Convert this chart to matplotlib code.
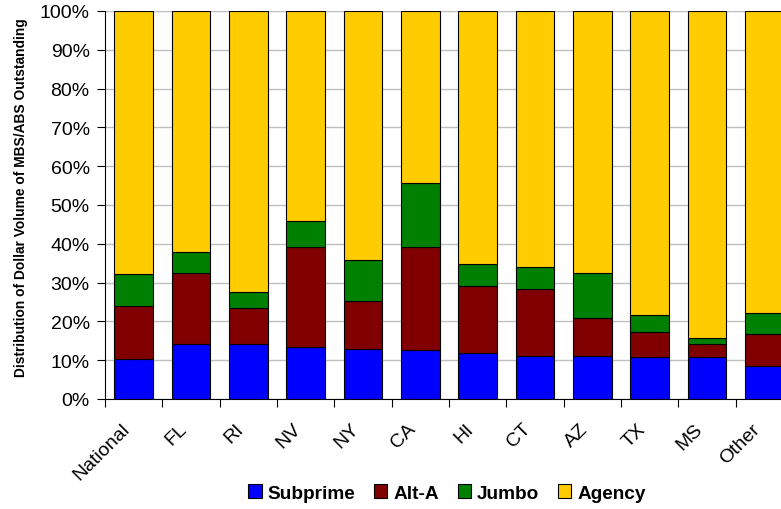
import numpy as np
import matplotlib
matplotlib.use("Agg")
from matplotlib import pyplot as plt
from matplotlib import transforms

# datos (porcentaje por tramo)
estados = ['National', 'FL', 'RI', 'NV', 'NY', 'CA', 'HI', 'CT', 'AZ', 'TX', 'MS', 'Other']
subprime = [10.3, 14.3, 14.1, 13.3, 13.0, 12.7, 11.9, 11.1, 11.1, 10.8, 10.8, 8.5]
alt_a = [13.7, 18.2, 9.3, 26.0, 12.3, 26.4, 17.1, 17.3, 9.9, 6.4, 3.5, 8.3]
jumbo = [8.2, 5.5, 4.1, 6.6, 10.6, 16.6, 5.9, 5.6, 11.5, 4.4, 1.4, 5.3]
agency = [100 - s - a - j for s, a, j in zip(subprime, alt_a, jumbo)]

series = [('Subprime', subprime, '#0000ff'),
          ('Alt-A', alt_a, '#800000'),
          ('Jumbo', jumbo, '#008000'),
          ('Agency', agency, '#ffcc00')]

plt.rcParams['font.family'] = ['Liberation Sans', 'DejaVu Sans']

fig = plt.figure(figsize=(7.81, 5.10), dpi=100)
ax = fig.add_axes([105 / 781, 110 / 510, 688 / 781, 388 / 510])

x = np.arange(len(estados))
base = np.zeros(len(estados))
for nombre, vals, color in series:
    ax.bar(x, vals, 0.67, bottom=base, color=color, edgecolor='black',
           linewidth=0.8, label=nombre, zorder=3)
    base += np.array(vals)

ax.set_xlim(-0.5, len(estados) - 0.5)
ax.set_ylim(0, 100)
ax.set_yticks(np.arange(0, 101, 10))
ax.set_yticklabels([f'{v}%' for v in range(0, 101, 10)], fontsize=14)
ax.yaxis.grid(True, color='#c0c0c0', linewidth=1, zorder=0)

# marcas entre categorias; etiquetas giradas en el centro de cada barra
ax.set_xticks(np.arange(-0.5, len(estados), 1))
ax.set_xticklabels([])
ax.tick_params(axis='x', length=6, direction='out')
ax.tick_params(axis='y', length=6, direction='out', pad=5)
trans = ax.get_xaxis_transform() + transforms.ScaledTranslation(
    -0.13, -0.21, fig.dpi_scale_trans)
for i, nombre in enumerate(estados):
    ax.text(i, 0, nombre, transform=trans, rotation=45, ha='right', va='top',
            rotation_mode='anchor', fontsize=14, clip_on=False)

for lado in ['top', 'right']:
    ax.spines[lado].set_visible(False)
ax.spines['left'].set_color('black')
ax.spines['bottom'].set_color('black')

ax.set_ylabel('Distribution of Dollar Volume of MBS/ABS Outstanding',
              fontsize=9.9, fontweight='bold')
ax.yaxis.set_label_coords(-0.112, 0.522)

fig.legend(loc='center', bbox_to_anchor=(447 / 781, 1 - 494 / 510), ncol=4,
           frameon=False, prop={'weight': 'bold', 'size': 13.7},
           handlelength=0.7, handleheight=0.7, handletextpad=0.3,
           columnspacing=1.0)

plt.savefig('out.png', dpi=100)
